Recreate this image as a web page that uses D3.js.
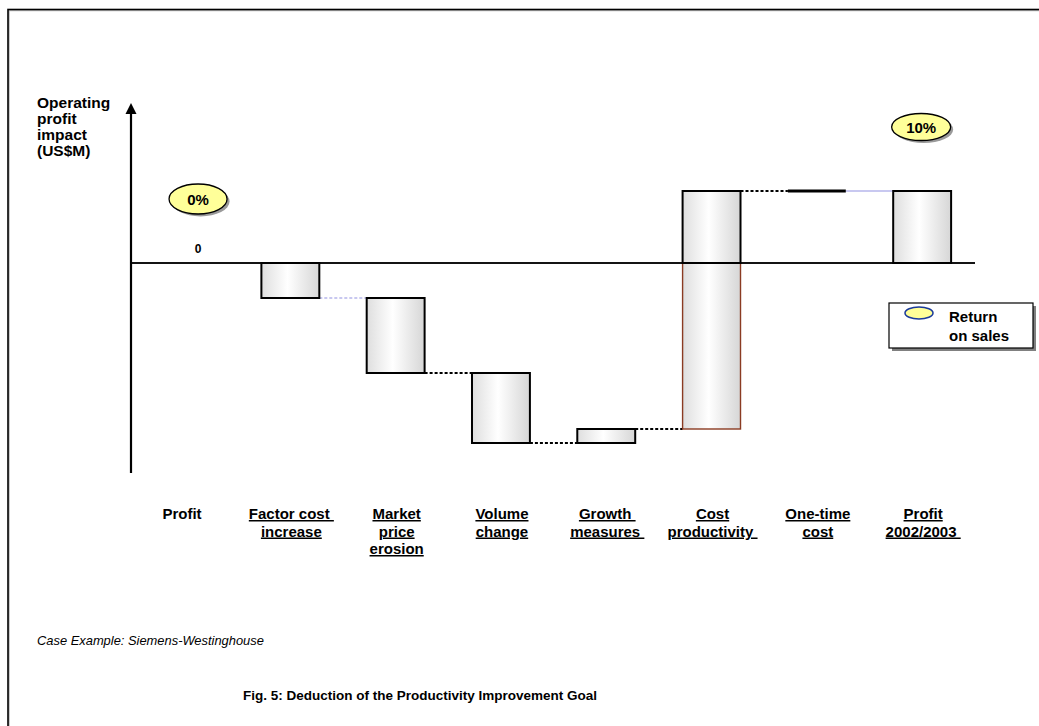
<!DOCTYPE html>
<html>
<head>
<meta charset="utf-8">
<script src="https://cdn.jsdelivr.net/npm/d3@7"></script>
<style>
  html, body { margin: 0; padding: 0; background: #fff; }
  svg { display: block; font-family: "Liberation Sans", Arial, sans-serif; }
  .cat { font-weight: bold; font-size: 15px; white-space: pre; }
</style>
</head>
<body>
<svg id="chart" width="1039" height="726"></svg>
<script>
// ---- data ----
const categories = ["Profit", "Factor cost \nincrease", "Market\nprice\nerosion", "Volume\nchange",
                    "Growth \nmeasures ", "Cost\nproductivity ", "One-time\ncost", "Profit\n2002/2003 "];
const underlined = [false, true, true, true, true, true, true, true];
const barTypes = ["total", "delta", "delta", "delta", "delta", "delta", "delta", "total"];
const values = [0, -35, -75, -70, 14, 238, 0, 72];
const returnOnSales = ["0%", null, null, null, null, null, null, "10%"];
const yDomain = [-210, 160];
const yAxisTitle = ["Operating", "profit", "impact", "(US$M)"];
const zeroLabel = "0";
const legendLines = ["Return", "on sales"];
const sourceNote = "Case Example: Siemens-Westinghouse";
const figTitle = "Fig. 5: Deduction of the Productivity Improvement Goal";

// ---- layout ----
const svg = d3.select("#chart");
const x = d3.scaleBand().domain(d3.range(categories.length)).range([132.4, 974.8])
  .paddingInner(0.45).paddingOuter(0.225);
const y = d3.scaleLinear().domain(yDomain).range([473, 103]);

const defs = svg.append("defs");
const grad = defs.append("linearGradient").attr("id", "barGrad").attr("x1", 0).attr("x2", 1).attr("y1", 0).attr("y2", 0);
grad.append("stop").attr("offset", "0%").attr("stop-color", "#dedede");
grad.append("stop").attr("offset", "45%").attr("stop-color", "#ffffff");
grad.append("stop").attr("offset", "100%").attr("stop-color", "#d6d6d6");

// outer frame
svg.append("rect").attr("x", 9).attr("y", 10.5).attr("width", 1100).attr("height", 800)
  .attr("fill", "none").attr("stroke", "#bbb").attr("stroke-width", 1.5);
svg.append("rect").attr("x", 8).attr("y", 9.5).attr("width", 1100).attr("height", 800)
  .attr("fill", "none").attr("stroke", "#000").attr("stroke-width", 1.6);

// cumulative computation
const segs = [];
let cum = 0;
values.forEach((v, i) => {
  if (barTypes[i] === "total") { segs.push({ i, start: 0, end: v }); cum = v; }
  else { segs.push({ i, start: cum, end: cum + v }); cum += v; }
});

// zero line
svg.append("line").attr("x1", 131).attr("x2", 975).attr("y1", y(0)).attr("y2", y(0))
  .attr("stroke", "#000").attr("stroke-width", 1.6);

// connectors
const connStyles = [null, { c: "#c8c8f0", d: "3,2" }, { c: "#000", d: "3,2" }, { c: "#000", d: "3,2" },
                    { c: "#000", d: "3,2" }, { c: "#000", d: "3,2" }, { c: "#c8c8f0", d: null }];
for (let k = 1; k < segs.length - 1; k++) {
  const s = connStyles[k];
  if (!s) continue;
  const lvl = segs[k].end;
  const ln = svg.append("line")
    .attr("x1", x(k) + x.bandwidth()).attr("x2", x(k + 1))
    .attr("y1", y(lvl)).attr("y2", y(lvl))
    .attr("stroke", s.c).attr("stroke-width", 2);
  if (s.d) ln.attr("stroke-dasharray", s.d);
}

// bars
segs.forEach(s => {
  const lo = Math.min(s.start, s.end), hi = Math.max(s.start, s.end);
  if (hi - lo === 0) {
    if (barTypes[s.i] === "delta") {
      svg.append("line").attr("x1", x(s.i)).attr("x2", x(s.i) + x.bandwidth())
        .attr("y1", y(s.end)).attr("y2", y(s.end)).attr("stroke", "#000").attr("stroke-width", 3);
    }
    return;
  }
  const parts = (lo < 0 && hi > 0) ? [[lo, 0, "#8a3b22", 1.4], [0, hi, "#000", 2]] : [[lo, hi, "#000", 2]];
  parts.forEach(([a, b, col, w]) => {
    svg.append("rect").attr("x", x(s.i)).attr("width", x.bandwidth())
      .attr("y", y(b)).attr("height", y(a) - y(b))
      .attr("fill", "url(#barGrad)").attr("stroke", col).attr("stroke-width", w);
  });
});
// redraw zero line across cost productivity bar
svg.append("line").attr("x1", 131).attr("x2", 975).attr("y1", y(0)).attr("y2", y(0))
  .attr("stroke", "#000").attr("stroke-width", 1.4).attr("opacity", 0.9);

// y axis with arrow
svg.append("line").attr("x1", 131).attr("x2", 131).attr("y1", 473).attr("y2", 112)
  .attr("stroke", "#000").attr("stroke-width", 2.2);
svg.append("path").attr("d", `M131,${y(yDomain[1])} L125.5,${y(yDomain[1]) + 11} L136.5,${y(yDomain[1]) + 11} Z`).attr("fill", "#000");

// y axis title
svg.append("g").selectAll("text").data(yAxisTitle).join("text")
  .attr("x", 37).attr("y", (d, i) => 108 + i * 16)
  .attr("font-weight", "bold").attr("font-size", 15.5).text(d => d);

// zero label
svg.append("text").attr("x", x(0) + x.bandwidth() / 2 + 13).attr("y", y(0) - 10)
  .attr("text-anchor", "middle").attr("font-weight", "bold").attr("font-size", 12).text(zeroLabel);

// return on sales ellipses
const rosOffsets = { 0: 64, 7: 136 };
returnOnSales.forEach((t, i) => {
  if (!t) return;
  const cx = i === 0 ? x(i) + x.bandwidth() / 2 + 13 : x(i) + x.bandwidth() / 2 - 1;
  const cy = y(rosOffsets[i]);
  const rx = i === 0 ? 29 : 29.5, ry = i === 0 ? 15 : 13.5;
  svg.append("ellipse").attr("cx", cx + 2.5).attr("cy", cy + 2.5).attr("rx", rx).attr("ry", ry).attr("fill", "#9a9a9a");
  svg.append("ellipse").attr("cx", cx).attr("cy", cy).attr("rx", rx).attr("ry", ry)
    .attr("fill", "#ffff99").attr("stroke", "#000").attr("stroke-width", 1.3);
  svg.append("text").attr("x", cx).attr("y", cy + 5.5).attr("text-anchor", "middle")
    .attr("font-weight", "bold").attr("font-size", 15).text(t);
});

// legend
const lg = svg.append("g");
lg.append("rect").attr("x", 892).attr("y", 306).attr("width", 144).attr("height", 45).attr("fill", "#808080");
lg.append("rect").attr("x", 889).attr("y", 303).attr("width", 144).attr("height", 45)
  .attr("fill", "#fff").attr("stroke", "#000").attr("stroke-width", 1.2);
lg.append("ellipse").attr("cx", 919).attr("cy", 313).attr("rx", 14).attr("ry", 6)
  .attr("fill", "#ffff99").attr("stroke", "#1a3a9a").attr("stroke-width", 1.5);
lg.selectAll("text.l").data(legendLines).join("text").attr("class", "l")
  .attr("x", 949).attr("y", (d, i) => 322 + i * 19)
  .attr("font-weight", "bold").attr("font-size", 15).text(d => d);

// category labels
categories.forEach((c, i) => {
  const lines = c.split("\n");
  const t = svg.append("text").attr("class", "cat").attr("text-anchor", "middle")
    .attr("text-decoration", underlined[i] ? "underline" : null);
  const cx = i === 0 ? x(i) + x.bandwidth() / 2 - 3 : x(i) + x.bandwidth() / 2 + 1;
  lines.forEach((l, j) => {
    t.append("tspan").attr("x", cx).attr("y", 519 + j * 17.5).text(l);
  });
});

// footer
svg.append("text").attr("x", 37).attr("y", 645).attr("font-style", "italic").attr("font-size", 12.9).text(sourceNote);
svg.append("text").attr("x", 420).attr("y", 700).attr("text-anchor", "middle")
  .attr("font-weight", "bold").attr("font-size", 13.5).text(figTitle);
</script>
</body>
</html>
